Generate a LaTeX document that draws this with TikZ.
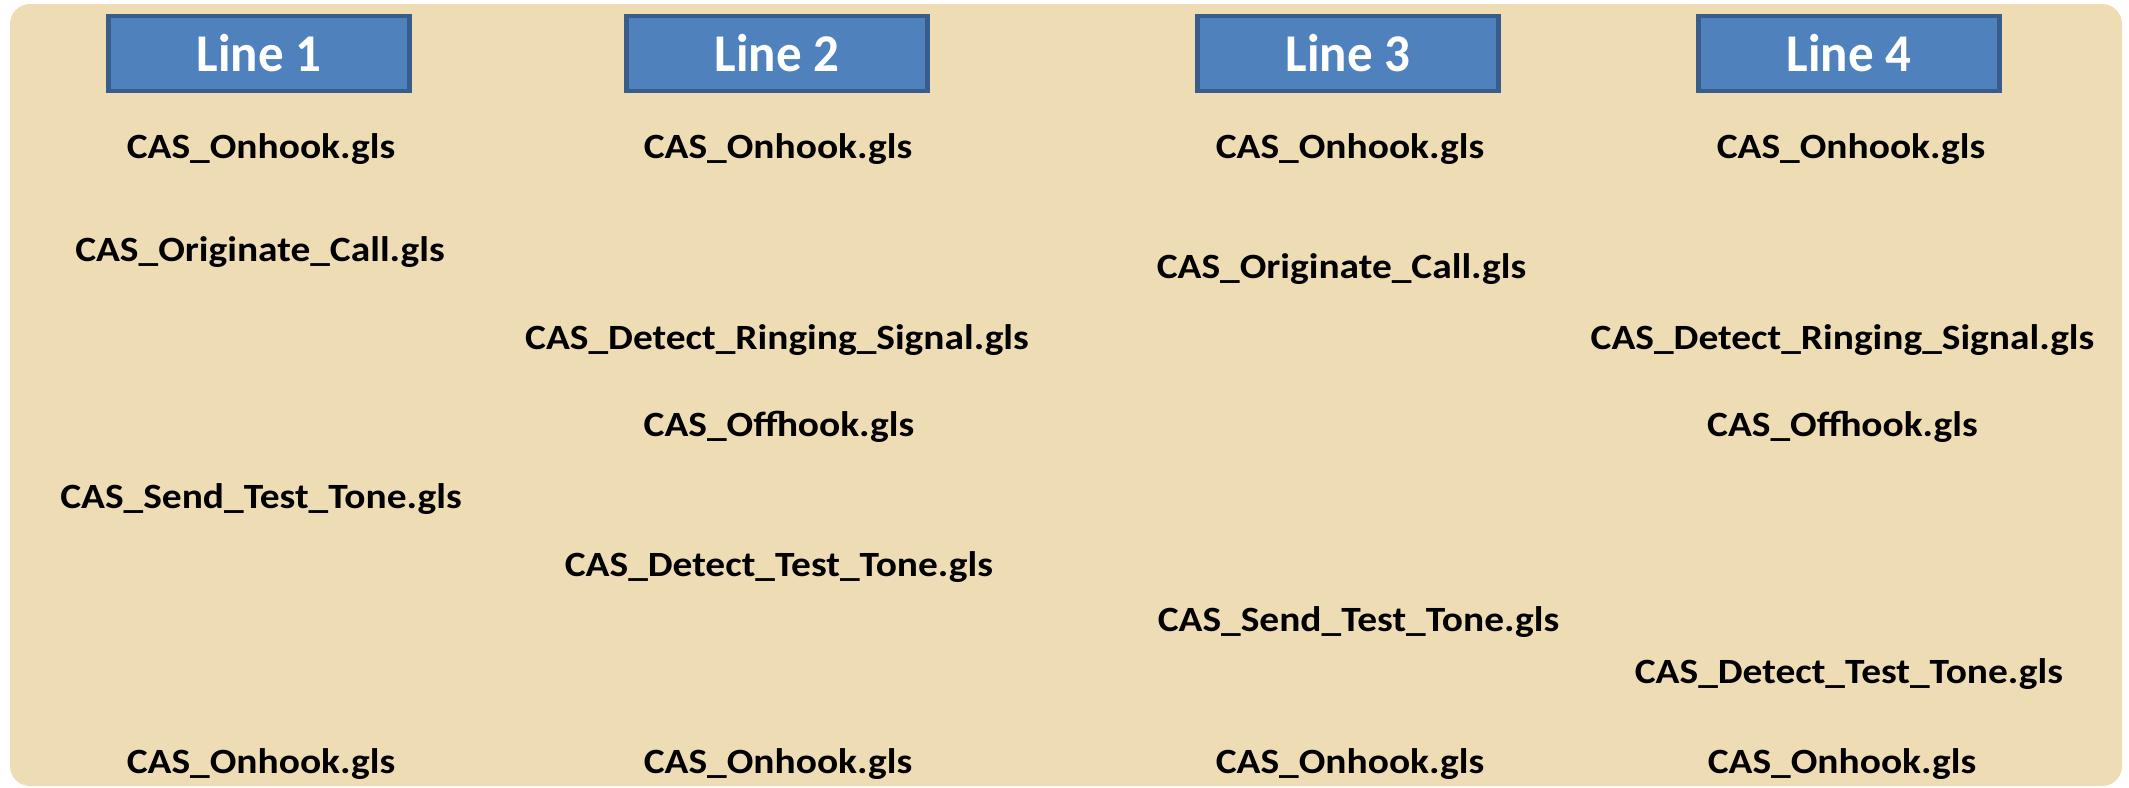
\documentclass[tikz,border=0pt]{standalone}
\usepackage{fontspec}
\setmainfont{Carlito}
\newfontfamily\glsfont{Carlito}[FakeStretch=1.11]
\newfontfamily\headfont{Carlito}[FakeStretch=0.96]
\definecolor{panel}{RGB}{238,220,180}
\definecolor{boxfill}{RGB}{79,129,189}
\definecolor{boxedge}{RGB}{56,93,138}
\begin{document}
\begin{tikzpicture}[x=0.01cm,y=-0.01cm,
  linebox/.style={draw=boxedge,fill=boxfill,line width=1.2pt,minimum width=3.01cm,minimum height=0.75cm,inner sep=0pt,text=white,font=\headfont\fontsize{15.1}{18}\selectfont\bfseries},
  script/.style={anchor=base,inner sep=0pt,font=\glsfont\fontsize{10.1}{12}\selectfont\bfseries}]
\useasboundingbox (0,0) rectangle (2129,787);
\fill[panel,rounded corners=0.2cm] (10,4) rectangle (2122,786);
\node[linebox] (l1) at (259,53.5)  {Line 1};
\node[linebox] (l2) at (777,53.5)  {Line 2};
\node[linebox] (l3) at (1348,53.5) {Line 3};
\node[linebox] (l4) at (1849,53.5) {Line 4};
% line 1
\node[script] (s1a) at (261,158) {CAS\_Onhook.gls};
\node[script] (s1b) at (260,261) {CAS\_Originate\_Call.gls};
\node[script] (s1c) at (261,508) {CAS\_Send\_Test\_Tone.gls};
\node[script] (s1d) at (261,773) {CAS\_Onhook.gls};
% line 2
\node[script] (s2a) at (778,158) {CAS\_Onhook.gls};
\node[script] (s2b) at (777,349) {CAS\_Detect\_Ringing\_Signal.gls};
\node[script] (s2c) at (779,436) {CAS\_Offhook.gls};
\node[script] (s2d) at (779,576) {CAS\_Detect\_Test\_Tone.gls};
\node[script] (s2e) at (778,773) {CAS\_Onhook.gls};
% line 3
\node[script] (s3a) at (1350,158)   {CAS\_Onhook.gls};
\node[script] (s3b) at (1341.5,278) {CAS\_Originate\_Call.gls};
\node[script] (s3c) at (1358.5,631) {CAS\_Send\_Test\_Tone.gls};
\node[script] (s3d) at (1350,773)   {CAS\_Onhook.gls};
% line 4
\node[script] (s4a) at (1851,158)   {CAS\_Onhook.gls};
\node[script] (s4b) at (1842.5,349) {CAS\_Detect\_Ringing\_Signal.gls};
\node[script] (s4c) at (1842.5,436) {CAS\_Offhook.gls};
\node[script] (s4d) at (1849,683)   {CAS\_Detect\_Test\_Tone.gls};
\node[script] (s4e) at (1842,773)   {CAS\_Onhook.gls};
\end{tikzpicture}
\end{document}
